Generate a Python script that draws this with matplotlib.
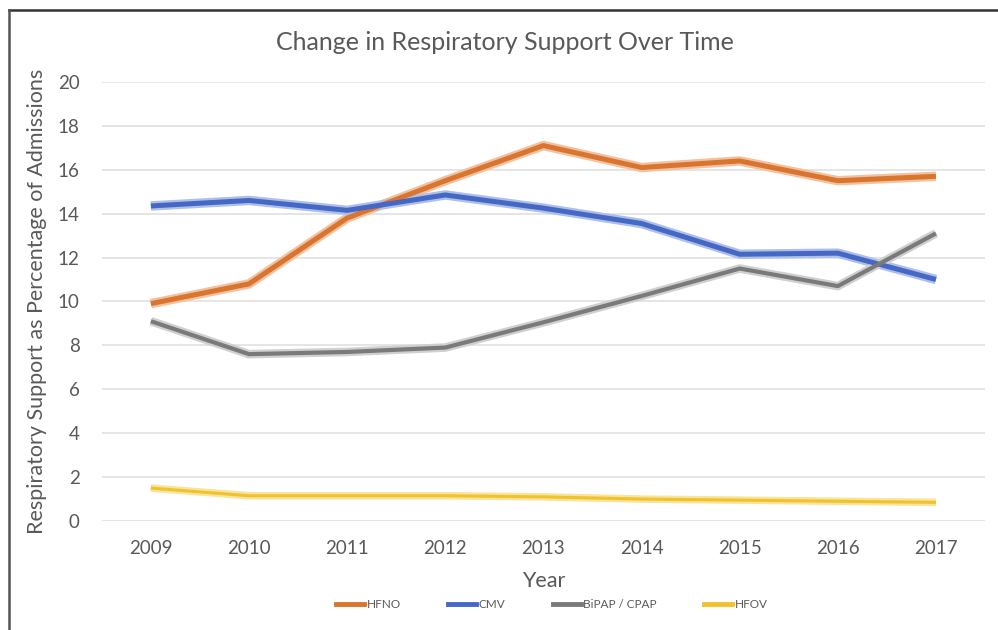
import matplotlib.pyplot as plt
import matplotlib.lines as mlines

years = [2009, 2010, 2011, 2012, 2013, 2014, 2015, 2016, 2017]
hfno = [9.9, 10.8, 13.8, 15.5, 17.1, 16.1, 16.4, 15.5, 15.7]
cmv = [14.35, 14.6, 14.15, 14.85, 14.25, 13.55, 12.15, 12.2, 11.0]
bipap = [9.1, 7.6, 7.7, 7.9, 9.05, 10.25, 11.5, 10.7, 13.1]
hfov = [1.5, 1.15, 1.15, 1.15, 1.1, 1.0, 0.95, 0.9, 0.85]

names = ["HFNO", "CMV", "BiPAP / CPAP", "HFOV"]
colors = ["#D9752E", "#4668C5", "#7A7A7A", "#F2C12E"]
glows = ["#F2C2A0", "#AEBFEA", "#D0D0D0", "#F8E49A"]
widths = [3.6, 3.6, 3.0, 2.2]

plt.rcParams['font.family'] = ['Lato', 'DejaVu Sans']
text_col = "#595959"

fig = plt.figure(figsize=(9.98, 6.30), dpi=100)
ax = fig.add_axes([0.102, 0.173, 0.885, 0.697])

for vals, c, g, w in zip([hfno, cmv, bipap, hfov], colors, glows, widths):
    ax.plot(years, vals, color=g, lw=w + 3.2, solid_capstyle='butt', solid_joinstyle='round', zorder=2)
    ax.plot(years, vals, color=c, lw=w, solid_capstyle='butt', solid_joinstyle='round', zorder=3)

ax.set_xlim(2008.5, 2017.5)
ax.set_ylim(0, 20)
ax.set_yticks(range(0, 21, 2))
ax.set_xticks(years)
ax.grid(axis='y', color='#E3E3E3', lw=1.3)
ax.set_axisbelow(True)
for s in ax.spines.values():
    s.set_visible(False)
ax.tick_params(length=0, labelsize=13.5, colors=text_col)
ax.tick_params(axis='y', pad=16)
ax.tick_params(axis='x', pad=14)

fig.text(0.506, 0.933, "Change in Respiratory Support Over Time", fontsize=18, color=text_col,
         ha='center', va='center')
ax.set_xlabel("Year", fontsize=15.5, color=text_col, labelpad=10)
ax.set_ylabel("Respiratory Support as Percentage of Admissions", fontsize=15.5, color=text_col, labelpad=8)

handles = [mlines.Line2D([], [], color=c, lw=3.5) for c in colors]
fig.legend(handles, names, loc='center', bbox_to_anchor=(0.553, 0.04), ncol=4, frameon=False,
           fontsize=8.5, handlelength=2.4, handletextpad=0.2, columnspacing=4.0, labelcolor=text_col)

# frame around the chart
fig.add_artist(mlines.Line2D([0.009, 1.0], [0.984, 0.984], transform=fig.transFigure, color='#333333', lw=1.8))
fig.add_artist(mlines.Line2D([0.009, 0.009], [0.0, 0.984], transform=fig.transFigure, color='#555555', lw=1.8))

fig.savefig("out.png", dpi=100)
